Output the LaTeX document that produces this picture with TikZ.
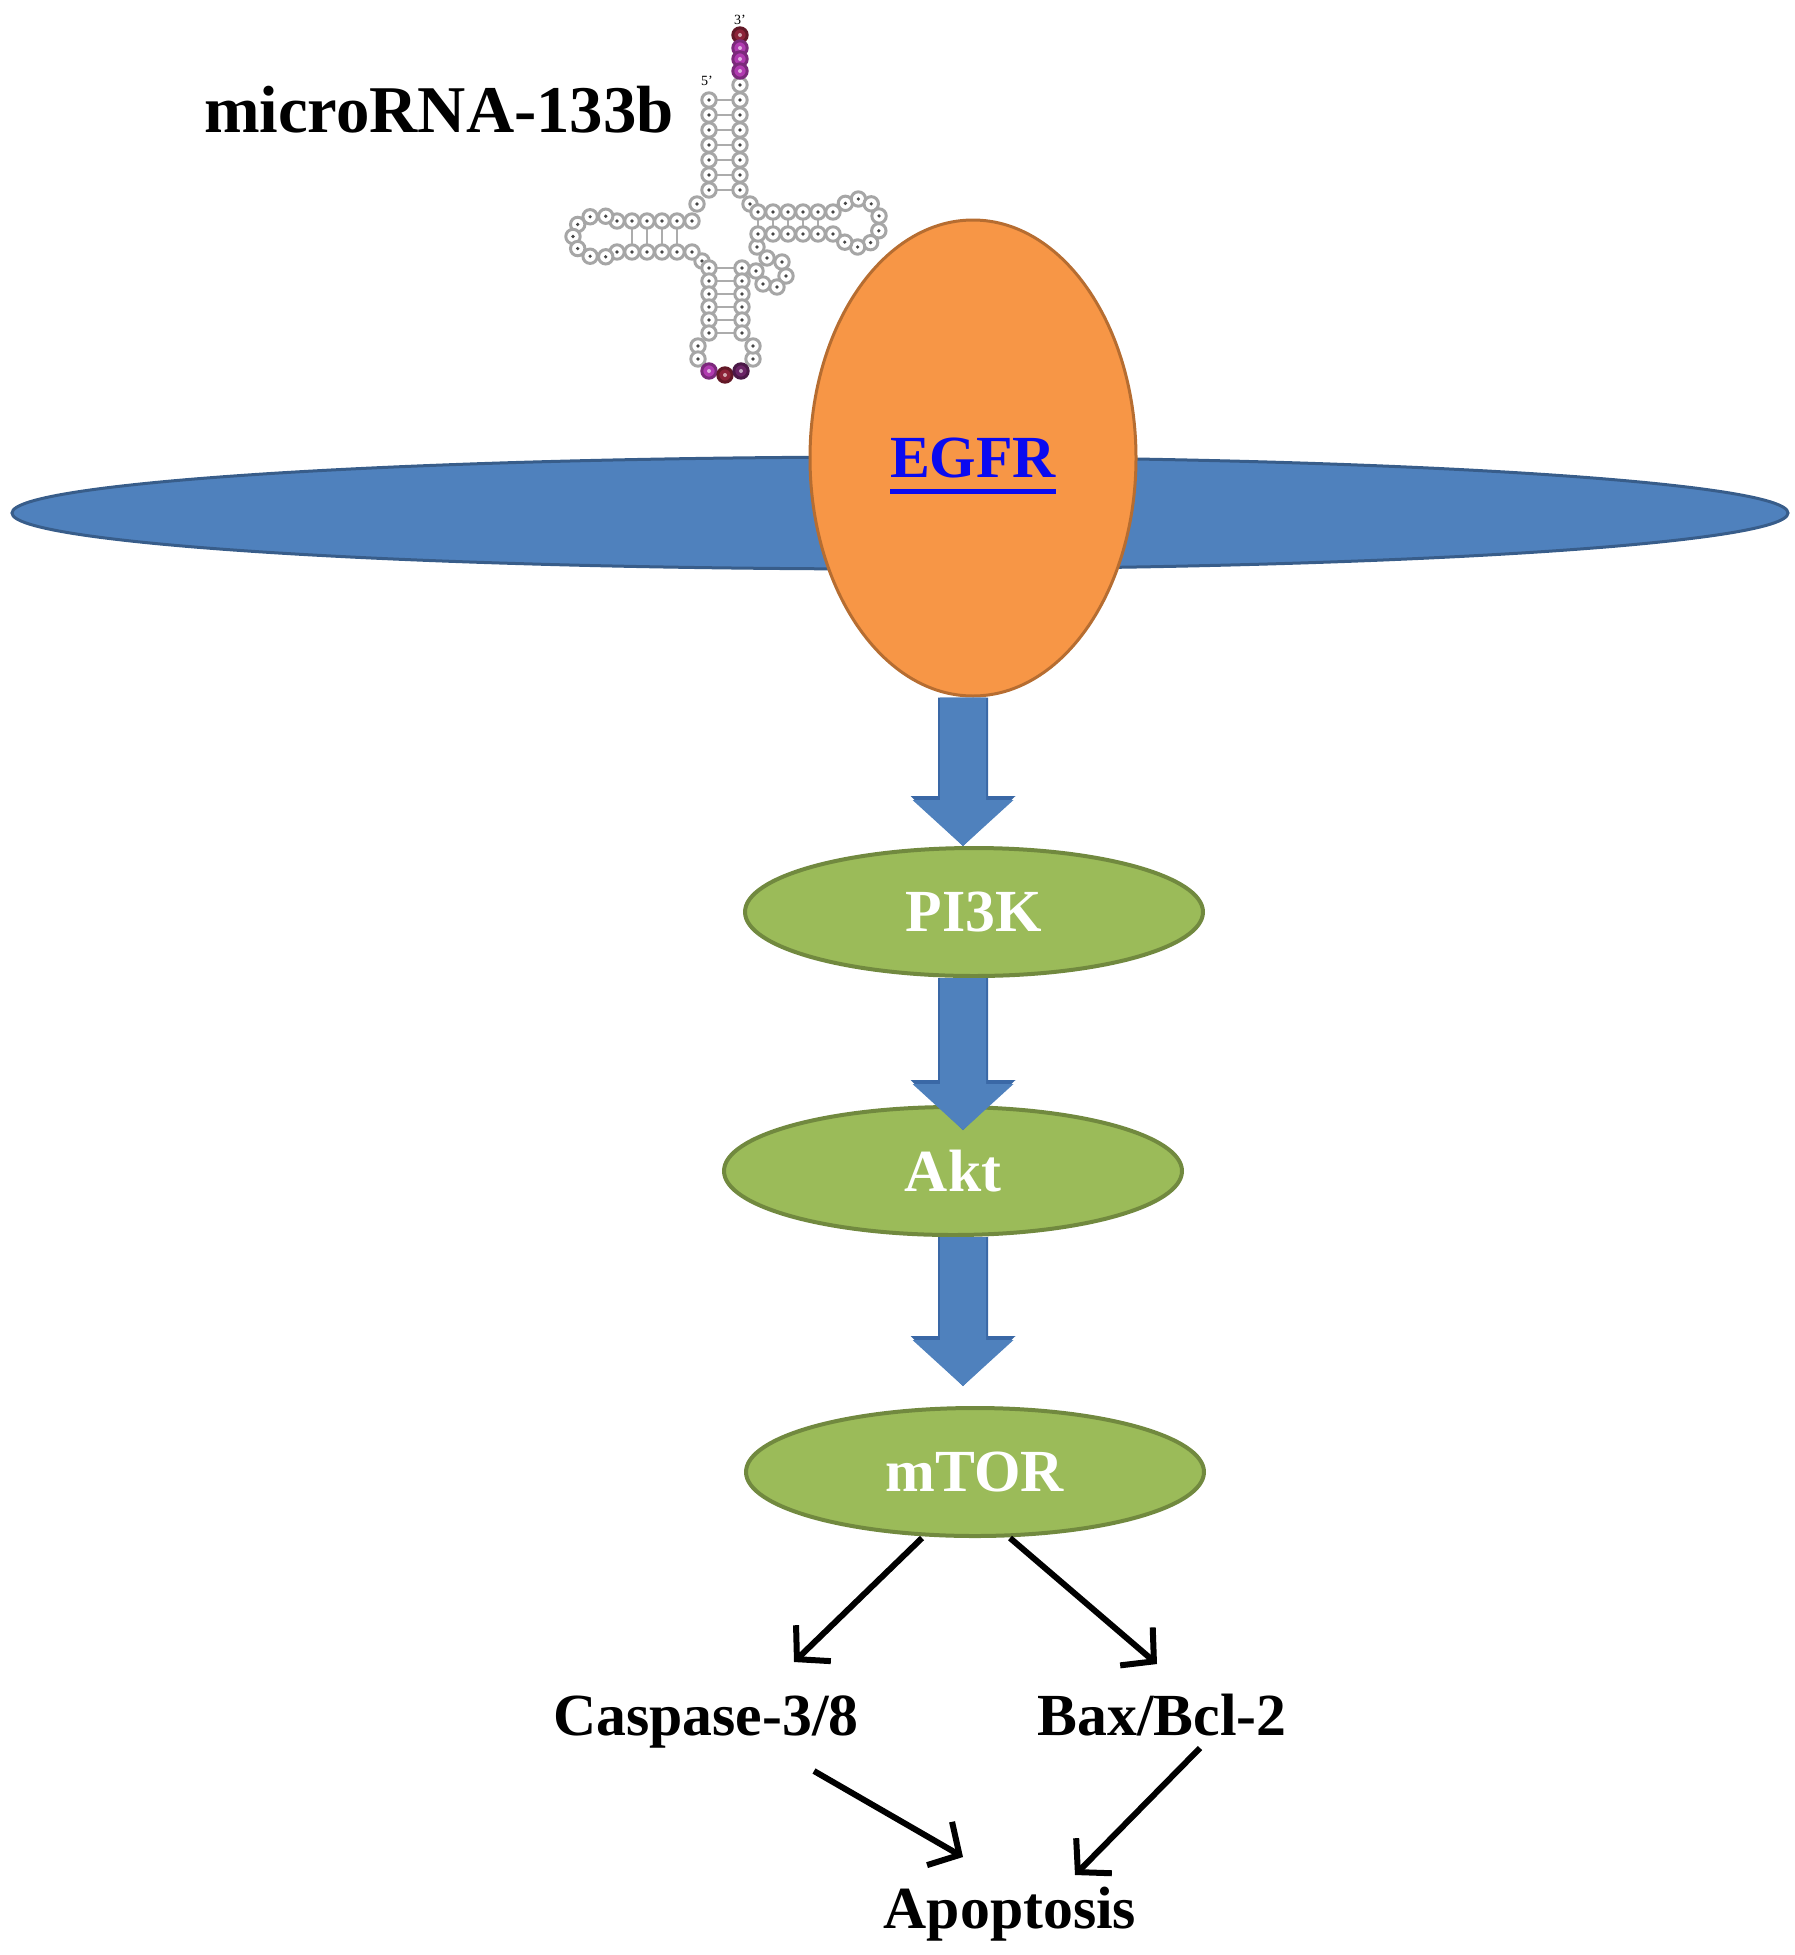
\documentclass[tikz,border=0pt]{standalone}
\usepackage{fontspec}
\setmainfont{Liberation Serif}
\usetikzlibrary{shapes.geometric, arrows.meta}

\definecolor{membraneblue}{HTML}{4F81BD}
\definecolor{membraneedge}{HTML}{385D8A}
\definecolor{receptororange}{HTML}{F79646}
\definecolor{receptoredge}{HTML}{B66D31}
\definecolor{kinasegreen}{HTML}{9BBB59}
\definecolor{kinaseedge}{HTML}{71893F}
\definecolor{arrowblue}{HTML}{4F81BD}
\definecolor{arrowedge}{HTML}{3A68A6}
\definecolor{linkblue}{HTML}{0A0AF0}
\definecolor{ntmagenta}{HTML}{B03AB0}
\definecolor{ntred}{HTML}{8C2238}
\definecolor{ntpurple}{HTML}{6A2466}

\begin{document}
\begin{tikzpicture}[x = 0.1mm, y = -0.1mm, semithick]
  \tikzstyle{membrane} = [draw = membraneedge, fill = membraneblue, line width = 0.3mm, shape = ellipse, minimum width = 177.6mm, minimum height = 11.2mm]
  \tikzstyle{receptor} = [draw = receptoredge, fill = receptororange, line width = 0.3mm, shape = ellipse, minimum width = 32.6mm, minimum height = 47.6mm, text = linkblue, text depth = 0pt, font = \bfseries\fontsize{17}{20}\selectfont]
  \tikzstyle{kinase}   = [draw = kinaseedge, fill = kinasegreen, line width = 0.4mm, shape = ellipse, minimum width = 45.8mm, minimum height = 12.8mm, text = white, font = \bfseries\fontsize{17}{20}\selectfont]
  \tikzstyle{outcome}  = [inner sep = 0pt, anchor = base, font = \bfseries\fontsize{17}{20}\selectfont]
  \tikzstyle{pathway}  = [draw = arrowblue, line width = 4.6mm, -{Triangle[length = 4.6mm, width = 10.1mm, line width = 0pt]},
                          preaction = {draw = arrowedge, line width = 5mm, -{Triangle[length = 5mm, width = 10.5mm, line width = 0pt]}}]
  \tikzstyle{effect}   = [line width = 0.6mm, -{Straight Barb[length = 2.3mm, width = 5mm]}]
  \tikzstyle{nt}       = [draw = gray!70, fill = white, line width = 0.3mm]
  \tikzstyle{ntdot}    = [fill = gray!55!black]
  \tikzstyle{pair}     = [draw = gray!65, line width = 0.18mm]

  \useasboundingbox (0,0) rectangle (1795,1955);

  % microRNA-133b hairpin
  \node[inner sep = 0pt, anchor = base west, font = \bfseries\fontsize{19}{22}\selectfont] (mirna) at (203,132) {microRNA-133b};
  \node[inner sep = 0pt, font = \fontsize{4}{4}\selectfont] (threeprime) at (740,20) {3'};
  \node[inner sep = 0pt, font = \fontsize{4}{4}\selectfont] (fiveprime)  at (707,81) {5'};

  \foreach \y in {100,115,...,190} \draw[pair] (716,\y) -- (733,\y);
  \foreach \y in {268,281,...,333} \draw[pair] (716,\y) -- (735,\y);
  \foreach \x in {632,647,...,677} \draw[pair] (\x,228) -- (\x,245);
  \foreach \x in {758,773,...,818} \draw[pair] (\x,218) -- (\x,228);

  \foreach \x/\y in {740/85, 740/100, 740/115, 740/130, 740/145, 740/160, 740/175, 740/190,
                     709/100, 709/115, 709/130, 709/145, 709/160, 709/175, 709/190,
                     697/204, 750/204, 702/261,
                     617/221, 632/221, 647/221, 662/221, 677/221, 692/221,
                     617/252, 632/252, 647/252, 662/252, 677/252, 692/252,
                     709/268, 709/281, 709/294, 709/307, 709/320, 709/333,
                     742/268, 742/281, 742/294, 742/307, 742/320, 742/333,
                     698/346, 698/359, 753/359, 753/346,
                     757/247, 767/258, 782/262, 786/276, 777/287, 763/284, 756/271,
                     758/212, 773/212, 788/212, 803/212, 818/212, 833/212,
                     758/234, 773/234, 788/234, 803/234, 818/234, 833/234}
    {\draw[nt] (\x,\y) circle[radius = 0.72mm]; \fill[ntdot] (\x,\y) circle[radius = 0.18mm];}
  \foreach \a in {285,250,...,75}
    {\draw[nt] ({599+26*cos(\a)},{236.5+21*sin(\a)}) circle[radius = 0.72mm];
     \fill[ntdot] ({599+26*cos(\a)},{236.5+21*sin(\a)}) circle[radius = 0.18mm];}
  \foreach \a in {-125,-89,...,127}
    {\draw[nt] ({858+22*cos(\a)},{223+24*sin(\a)}) circle[radius = 0.72mm];
     \fill[ntdot] ({858+22*cos(\a)},{223+24*sin(\a)}) circle[radius = 0.18mm];}
  \foreach \x/\y/\c in {740/35/ntred, 740/48/ntmagenta, 740/59/ntmagenta, 740/71/ntmagenta,
                        709/371/ntmagenta, 725/375/ntred, 741/371/ntpurple}
    {\draw[draw = \c!70!black, fill = \c, line width = 0.3mm] (\x,\y) circle[radius = 0.72mm];
     \fill[white!60!\c] (\x,\y) circle[radius = 0.2mm];}

  % membrane and receptor
  \node[membrane] (mem)  at (900,513) {};
  \node[receptor] (egfr) at (973,458) {\setbox0\hbox{EGFR}\copy0\llap{\rule[-4.7pt]{\wd0}{1.6pt}}};

  % signalling cascade
  \node[kinase] (pi3k) at (974,912)  {PI3K};
  \node[kinase] (akt)  at (953,1171) {Akt};
  \node[kinase] (mtor) at (975,1472) {mTOR};

  \node[outcome] (casp) at (706,1735)  {Caspase-3/8};
  \node[outcome] (bax)  at (1162,1735) {Bax/Bcl-2};
  \node[outcome] (apop) at (1010,1928) {Apoptosis};

  \draw[pathway] ([xshift = -1mm]egfr.south) -- ([xshift = -1.1mm]pi3k.north);
  \draw[pathway] ([xshift = -1.1mm]pi3k.south) -- ([xshift = 1mm, yshift = -2.5mm]akt.north);
  \draw[pathway] ([xshift = 1mm]akt.south) -- ([xshift = -1.2mm, yshift = 2mm]mtor.north);

  \draw[effect] ([xshift = -5.3mm]mtor.south) -- ([xshift = 8.8mm, yshift = 7.3mm]casp.base);
  \draw[effect] ([xshift = 3.5mm]mtor.south) -- ([xshift = -0.5mm, yshift = 7.1mm]bax.base);
  \draw[effect] ([xshift = 10.8mm, yshift = -3.6mm]casp.base) -- ([xshift = -4.7mm, yshift = 7.1mm]apop.base);
  \draw[effect] ([xshift = 3.8mm, yshift = -1.3mm]bax.base) -- ([xshift = 6.5mm, yshift = 5.3mm]apop.base);

\end{tikzpicture}
\end{document}
